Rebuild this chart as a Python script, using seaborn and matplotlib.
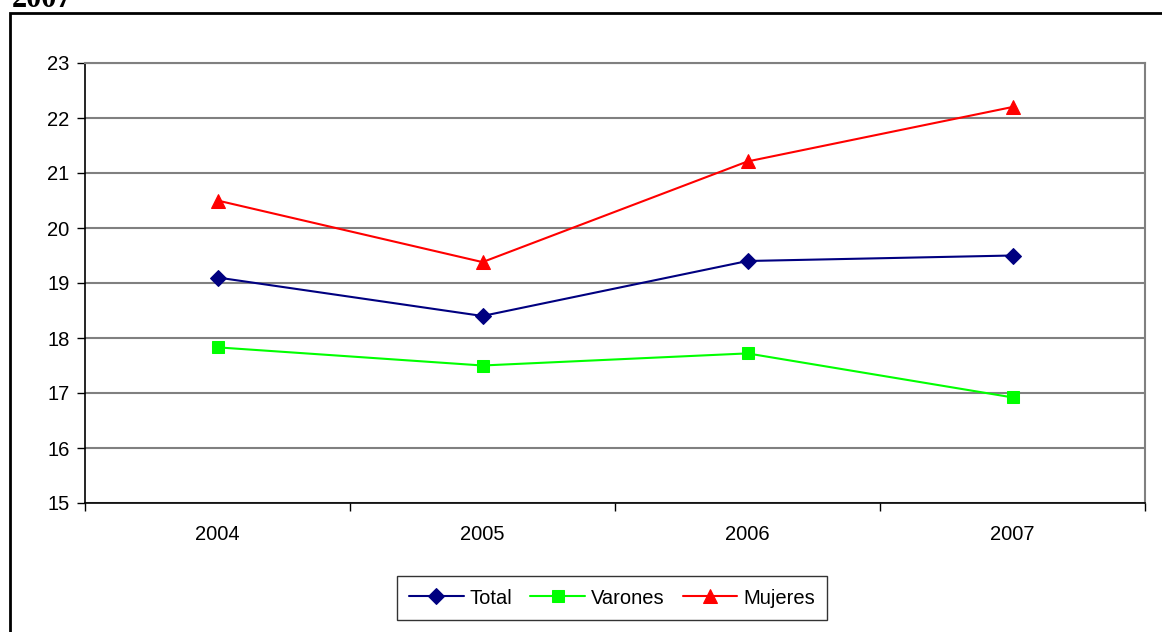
import matplotlib
matplotlib.use("Agg")
import matplotlib.pyplot as plt
import seaborn as sns
import pandas as pd
from matplotlib.patches import Rectangle
from matplotlib.ticker import FixedLocator, NullFormatter

# data
years = ["2004", "2005", "2006", "2007"]
total = [19.1, 18.4, 19.4, 19.5]
varones = [17.83, 17.5, 17.72, 16.92]
mujeres = [20.5, 19.38, 21.21, 22.2]
series_names = ["Total", "Varones", "Mujeres"]
y_ticks = [15, 16, 17, 18, 19, 20, 21, 22, 23]

df = pd.DataFrame({
    "anio": years * 3,
    "valor": total + varones + mujeres,
    "serie": [s for s in series_names for _ in years],
})

colors = {"Total": "#000080", "Varones": "#00FF00", "Mujeres": "#FF0000"}
markers = {"Total": "D", "Varones": "s", "Mujeres": "^"}
msizes = {"Total": 8, "Varones": 8, "Mujeres": 10}

sns.set_style("white")
plt.rcParams["font.family"] = ["Liberation Sans", "DejaVu Sans"]
plt.rcParams["text.color"] = "black"
plt.rcParams["xtick.color"] = "black"
plt.rcParams["ytick.color"] = "black"

fig = plt.figure(figsize=(11.62, 6.32), dpi=100)
ax = fig.add_axes([85 / 1162, 1 - 503 / 632, 1060 / 1162, 440 / 632])

for name in series_names:
    sub = df[df["serie"] == name]
    sns.lineplot(data=sub, x="anio", y="valor", ax=ax, color=colors[name],
                 marker=markers[name], markersize=msizes[name],
                 markeredgecolor=colors[name], linewidth=1.5, label=name,
                 sort=False)

ax.set_ylim(15, 23)
ax.set_xlim(-0.5, len(years) - 0.5)
ax.set_yticks(y_ticks)
ax.set_xticks(range(len(years)))
ax.set_xticklabels(years)
ax.xaxis.set_minor_locator(FixedLocator([i - 0.5 for i in range(len(years) + 1)]))
ax.xaxis.set_minor_formatter(NullFormatter())
ax.tick_params(axis="x", which="major", length=0, pad=16, labelsize=14.5,
               labelcolor="black")
ax.tick_params(axis="x", which="minor", length=6, width=1, color="black",
               direction="out", bottom=True)
ax.tick_params(axis="y", length=6, width=1, color="black", direction="out",
               left=True, pad=5, labelsize=14.5, labelcolor="black")
ax.set_xlabel("")
ax.set_ylabel("")
ax.grid(axis="y", color="#808080", linewidth=1.5)
ax.set_axisbelow(True)
for side in ["left", "bottom"]:
    ax.spines[side].set_color("black")
    ax.spines[side].set_linewidth(1.2)
ax.spines["right"].set_color("#808080")
ax.spines["right"].set_linewidth(1.5)
ax.spines["top"].set_color("#808080")
ax.spines["top"].set_linewidth(1.5)

leg = ax.legend(loc="center", bbox_to_anchor=(612 / 1162, 1 - 598 / 632),
                bbox_transform=fig.transFigure, ncol=3, frameon=True,
                fancybox=False, edgecolor="black", fontsize=14.5,
                handlelength=2.7, handletextpad=0.3, columnspacing=0.9,
                borderpad=0.6)
leg.get_frame().set_linewidth(1.0)
for t in leg.get_texts():
    t.set_color("black")

# outer chart border and cut-off heading
fig.patches.append(Rectangle((10 / 1162, -0.05), 1.2, 1 - 13 / 632 + 0.05,
                             transform=fig.transFigure, fill=False,
                             edgecolor="black", linewidth=2, clip_on=False))
fig.text(12 / 1162, 1 - 7 / 632, "2007", fontsize=22, fontweight="bold",
         family=["Liberation Serif", "DejaVu Serif"], va="baseline", ha="left")

fig.savefig("out.png", dpi=100)
